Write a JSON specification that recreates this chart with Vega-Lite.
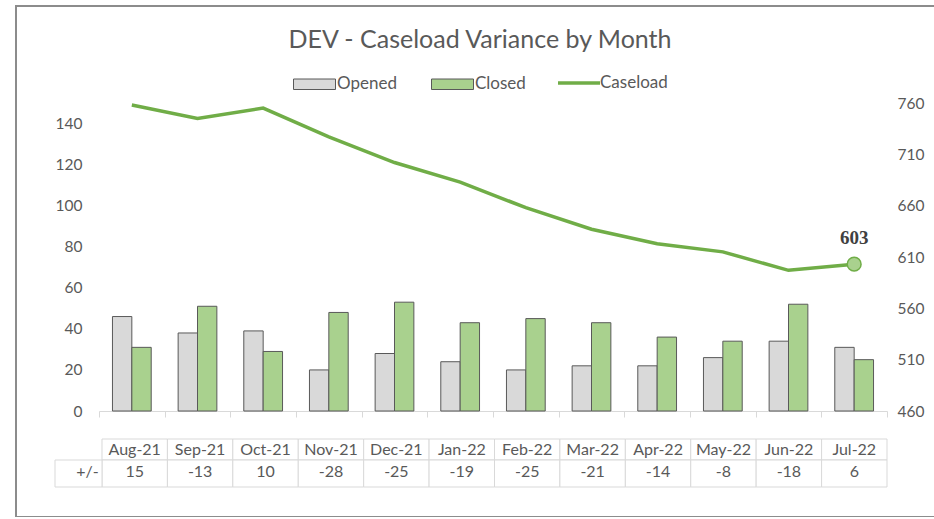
{
  "$schema": "https://vega.github.io/schema/vega-lite/v6.json",
  "width": 922,
  "height": 511,
  "autosize": {"type": "none"},
  "padding": {"left": 16, "top": 6, "right": -4, "bottom": 0},
  "background": "white",
  "config": {"view": {"stroke": "#8c8c8c", "strokeWidth": 2}, "font": "Lato"},
  "title": {"text": "DEV - Caseload Variance by Month", "fontSize": 25, "font": "Lato", "fontWeight": "normal", "color": "#595959", "anchor": "middle", "frame": "group", "baseline": "alphabetic", "offset": -67, "dx": 3},
  "datasets": {
    "m": [
      {"month": "Aug-21", "Opened": 46, "Closed": 31, "caseload": 758, "variance": 15},
      {"month": "Sep-21", "Opened": 38, "Closed": 51, "caseload": 745, "variance": -13},
      {"month": "Oct-21", "Opened": 39, "Closed": 29, "caseload": 755, "variance": 10},
      {"month": "Nov-21", "Opened": 20, "Closed": 48, "caseload": 727, "variance": -28},
      {"month": "Dec-21", "Opened": 28, "Closed": 53, "caseload": 702, "variance": -25},
      {"month": "Jan-22", "Opened": 24, "Closed": 43, "caseload": 683, "variance": -19},
      {"month": "Feb-22", "Opened": 20, "Closed": 45, "caseload": 658, "variance": -25},
      {"month": "Mar-22", "Opened": 22, "Closed": 43, "caseload": 637, "variance": -21},
      {"month": "Apr-22", "Opened": 22, "Closed": 36, "caseload": 623, "variance": -14},
      {"month": "May-22", "Opened": 26, "Closed": 34, "caseload": 615, "variance": -8},
      {"month": "Jun-22", "Opened": 34, "Closed": 52, "caseload": 597, "variance": -18},
      {"month": "Jul-22", "Opened": 31, "Closed": 25, "caseload": 603, "variance": 6}
    ]
  },
  "data": {"name": "m"},
  "resolve": {"scale": {"x": "independent", "y": "independent"}},
  "layer": [
    {
      "mark": {"type": "rect", "fill": "white", "stroke": "#d9d9d9", "strokeWidth": 1},
      "encoding": {
        "x": {"field": "month", "type": "nominal", "sort": null, "scale": {"type": "band", "range": [86, 871], "paddingInner": 0, "paddingOuter": 0}, "axis": null},
        "y": {"datum": 0, "type": "quantitative", "scale": {"domain": [0, 1], "range": [433, 454], "nice": false, "zero": false}, "axis": null},
        "y2": {"datum": 1}
      }
    },
    {
      "mark": {"type": "text", "fontSize": 16, "font": "Lato", "color": "#595959", "baseline": "middle"},
      "encoding": {
        "x": {"field": "month", "type": "nominal", "sort": null, "bandPosition": 0.5, "scale": {"type": "band", "range": [86, 871], "paddingInner": 0, "paddingOuter": 0}, "axis": null},
        "y": {"datum": 0.5, "type": "quantitative", "scale": {"domain": [0, 1], "range": [433, 454], "nice": false, "zero": false}, "axis": null},
        "text": {"field": "month", "type": "nominal"}
      }
    },
    {
      "mark": {"type": "rect", "fill": "white", "stroke": "#d9d9d9", "strokeWidth": 1},
      "encoding": {
        "x": {"field": "month", "type": "nominal", "sort": null, "scale": {"type": "band", "range": [86, 871], "paddingInner": 0, "paddingOuter": 0}, "axis": null},
        "y": {"datum": 0, "type": "quantitative", "scale": {"domain": [0, 1], "range": [454, 481], "nice": false, "zero": false}, "axis": null},
        "y2": {"datum": 1}
      }
    },
    {
      "mark": {"type": "text", "fontSize": 16, "font": "Lato", "color": "#595959", "baseline": "middle"},
      "encoding": {
        "x": {"field": "month", "type": "nominal", "sort": null, "bandPosition": 0.5, "scale": {"type": "band", "range": [86, 871], "paddingInner": 0, "paddingOuter": 0}, "axis": null},
        "y": {"datum": 0.45, "type": "quantitative", "scale": {"domain": [0, 1], "range": [454, 481], "nice": false, "zero": false}, "axis": null},
        "text": {"field": "variance", "type": "nominal"}
      }
    },
    {
      "data": {"values": [{"label": "+/-"}]},
      "mark": {"type": "rect", "fill": "white", "stroke": "#d9d9d9", "strokeWidth": 1},
      "encoding": {
        "x": {"field": "label", "type": "nominal", "scale": {"type": "band", "range": [39, 86], "paddingInner": 0, "paddingOuter": 0}, "axis": null},
        "y": {"datum": 0, "type": "quantitative", "scale": {"domain": [0, 1], "range": [454, 481], "nice": false, "zero": false}, "axis": null},
        "y2": {"datum": 1}
      }
    },
    {
      "data": {"values": [{"label": "+/-"}]},
      "mark": {"type": "text", "fontSize": 16, "font": "Lato", "color": "#595959", "baseline": "middle", "align": "right"},
      "encoding": {
        "x": {"field": "label", "type": "nominal", "bandPosition": 0.93, "scale": {"type": "band", "range": [39, 86], "paddingInner": 0, "paddingOuter": 0}, "axis": null},
        "y": {"datum": 0.45, "type": "quantitative", "scale": {"domain": [0, 1], "range": [454, 481], "nice": false, "zero": false}, "axis": null},
        "text": {"field": "label", "type": "nominal"}
      }
    },
    {
      "transform": [{"fold": ["Opened", "Closed"], "as": ["series", "value"]}],
      "mark": {"type": "bar", "stroke": "#595959", "strokeWidth": 1},
      "encoding": {
        "x": {"field": "month", "type": "nominal", "sort": null, "scale": {"type": "band", "range": [83, 871], "paddingInner": 0.41, "paddingOuter": 0.205}, "axis": null},
        "xOffset": {"field": "series", "type": "nominal", "sort": ["Opened", "Closed"], "scale": {"paddingInner": 0, "paddingOuter": 0}},
        "y": {"field": "value", "type": "quantitative", "scale": {"domain": [0, 150], "range": [405, 97], "nice": false}, "axis": {"orient": "left", "offset": -83, "values": [0, 20, 40, 60, 80, 100, 120, 140], "domain": false, "ticks": false, "tickSize": 0, "grid": false, "labelPadding": 17, "labelColor": "#595959", "labelFontSize": 15.5, "labelFont": "Lato", "title": null}},
        "fill": {
          "field": "series", "type": "nominal",
          "scale": {"domain": ["Opened", "Closed"], "range": ["#d9d9d9", "#a9d18e"]},
          "legend": {
            "orient": "none", "legendX": 277, "legendY": 56.5, "direction": "horizontal", "title": null,
            "symbolSize": 1764, "symbolType": "M-1,-0.25H1V0.25H-1Z",
            "symbolStrokeColor": "#595959", "symbolStrokeWidth": 1, "symbolOpacity": 1,
            "labelFontSize": 17, "labelFont": "Lato", "labelColor": "#595959", "labelOffset": 1, "columnPadding": 32, "padding": 0
          }
        }
      }
    },
    {
      "mark": {"type": "line", "strokeWidth": 3.5},
      "encoding": {
        "x": {"field": "month", "type": "nominal", "sort": null, "bandPosition": 0.5, "scale": {"type": "band", "range": [83, 871], "paddingInner": 0, "paddingOuter": 0}, "axis": {"orient": "bottom", "offset": -106, "labels": false, "title": null, "domainColor": "#d9d9d9", "tickColor": "#d9d9d9", "tickSize": 6, "tickBand": "extent", "grid": false}},
        "y": {"field": "caseload", "type": "quantitative", "scale": {"domain": [460, 760], "range": [405, 97], "nice": false, "zero": false}, "axis": {"orient": "right", "offset": -51, "values": [460, 510, 560, 610, 660, 710, 760], "domain": false, "ticks": false, "tickSize": 0, "grid": false, "labelPadding": 10, "labelColor": "#595959", "labelFontSize": 15.5, "labelFont": "Lato", "title": null}},
        "stroke": {
          "datum": "Caseload", "type": "nominal",
          "scale": {"domain": ["Caseload"], "range": ["#70ad47"]},
          "legend": {
            "orient": "none", "legendX": 540, "legendY": 54, "direction": "horizontal", "title": null,
            "symbolSize": 1764, "symbolType": "M-1,0H1", "symbolStrokeWidth": 3.5, "symbolFillColor": "transparent", "symbolOpacity": 1,
            "labelFontSize": 17, "labelFont": "Lato", "labelColor": "#595959", "labelOffset": -2, "padding": 0
          }
        }
      }
    },
    {
      "transform": [{"filter": "datum.month === 'Jul-22'"}],
      "mark": {"type": "point", "filled": true, "fill": "#a9d18e", "stroke": "#70ad47", "strokeWidth": 1.5, "size": 190, "opacity": 1},
      "encoding": {
        "x": {"field": "month", "type": "nominal", "sort": null, "bandPosition": 0.5, "scale": {"type": "band", "range": [83, 871], "paddingInner": 0, "paddingOuter": 0, "domain": ["Aug-21", "Sep-21", "Oct-21", "Nov-21", "Dec-21", "Jan-22", "Feb-22", "Mar-22", "Apr-22", "May-22", "Jun-22", "Jul-22"]}, "axis": null},
        "y": {"field": "caseload", "type": "quantitative", "scale": {"domain": [460, 760], "range": [405, 97], "nice": false, "zero": false}, "axis": null}
      }
    },
    {
      "transform": [{"filter": "datum.month === 'Jul-22'"}],
      "mark": {"type": "text", "font": "Liberation Serif", "fontWeight": "bold", "fontSize": 19, "color": "#404040", "dy": -20, "baseline": "alphabetic"},
      "encoding": {
        "x": {"field": "month", "type": "nominal", "sort": null, "bandPosition": 0.5, "scale": {"type": "band", "range": [83, 871], "paddingInner": 0, "paddingOuter": 0, "domain": ["Aug-21", "Sep-21", "Oct-21", "Nov-21", "Dec-21", "Jan-22", "Feb-22", "Mar-22", "Apr-22", "May-22", "Jun-22", "Jul-22"]}, "axis": null},
        "y": {"field": "caseload", "type": "quantitative", "scale": {"domain": [460, 760], "range": [405, 97], "nice": false, "zero": false}, "axis": null},
        "text": {"field": "caseload", "type": "nominal"}
      }
    }
  ]
}
